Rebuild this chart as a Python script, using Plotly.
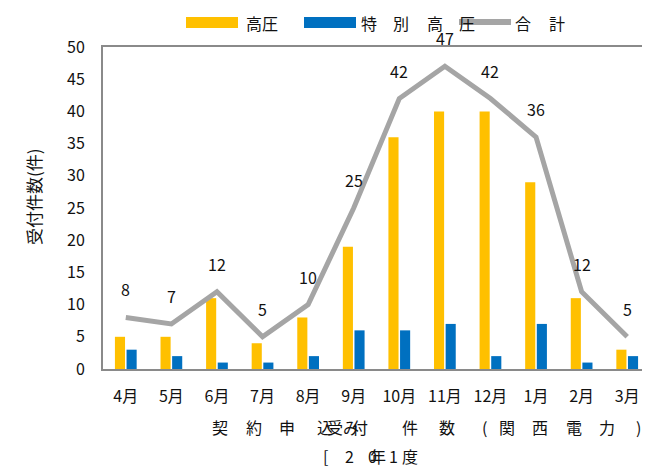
import plotly.graph_objects as go

months = ["4月", "5月", "6月", "7月", "8月", "9月", "10月", "11月", "12月", "1月", "2月", "3月"]
high_voltage = [5, 5, 11, 4, 8, 19, 36, 40, 40, 29, 11, 3]
extra_high_voltage = [3, 2, 1, 1, 2, 6, 6, 7, 2, 7, 1, 2]
totals = [8, 7, 12, 5, 10, 25, 42, 47, 42, 36, 12, 5]
y_ticks = [0, 5, 10, 15, 20, 25, 30, 35, 40, 45, 50]

FONT = "Noto Sans CJK JP"
TXT = "#111111"
AX = "#8a8a8a"

# the page body has an 8px margin, so the figure starts at (8, 8) in the window
OFF = 8
W, H = 650 - OFF, 473 - OFF
# plot-area geometry in window pixels (used only to place decorative text)
L, R, T, B = 103, 650, 47, 369


def px(x):
    return (x - L) / (R - L)


def py(y):
    return (B - y) / (B - T)


fig = go.Figure()
fig.add_trace(go.Bar(x=months, y=high_voltage, name="高圧", marker_color="#FFC000",
                     marker_line_width=0))
fig.add_trace(go.Bar(x=months, y=extra_high_voltage, name="特別高圧", marker_color="#0070C0",
                     marker_line_width=0))
fig.add_trace(go.Scatter(x=months, y=totals, name="合計", mode="lines",
                         line=dict(color="#A5A5A5", width=5)))

annotations = []
# data labels above total line
for m, t in zip(months, totals):
    annotations.append(dict(x=m, y=t, xref="x", yref="y", text=str(t), showarrow=False,
                            yshift=28, font=dict(family=FONT, size=16, color=TXT)))


def char(text, cx, cy, size=16):
    annotations.append(dict(x=px(cx), y=py(cy), xref="paper", yref="paper", text=text,
                            showarrow=False, xanchor="center", yanchor="middle",
                            font=dict(family=FONT, size=size, color=TXT)))


# legend text
char("高圧", 262, 23)
for c, cx in [("特", 369), ("別", 401), ("高", 435), ("圧", 467), ("合", 523), ("計", 557)]:
    char(c, cx, 23)

# x-axis title (line 1), rendered glyph by glyph like the original
for c, cx in [("契", 220), ("約", 254), ("申", 287), ("込", 325), ("受", 335), ("み", 351),
              ("付", 360), ("件", 410), ("数", 447), ("(", 484), ("関", 507), ("西", 540),
              ("電", 574), ("力", 607), (")", 638)]:
    char(c, cx, 427)
# line 2
for c, cx in [("[", 325), ("2", 349), ("0", 372), ("年", 378), ("1", 393), ("度", 410)]:
    char(c, cx, 456)

# y-axis title
annotations.append(dict(x=px(33), y=py(197), xref="paper", yref="paper", text="受付件数(件)",
                        showarrow=False, textangle=-90, xanchor="center", yanchor="middle",
                        font=dict(family=FONT, size=17, color=TXT)))

shapes = [
    dict(type="rect", xref="paper", yref="paper", x0=px(186), x1=px(238), y0=py(28), y1=py(17),
         fillcolor="#FFC000", line_width=0),
    dict(type="rect", xref="paper", yref="paper", x0=px(304), x1=px(356), y0=py(28), y1=py(17),
         fillcolor="#0070C0", line_width=0),
    dict(type="line", xref="paper", yref="paper", x0=px(459), x1=px(511), y0=py(22), y1=py(22),
         line=dict(color="#A5A5A5", width=6)),
]

fig.update_layout(
    width=W, height=H,
    margin=dict(l=L - OFF, r=650 - R, t=T - OFF, b=H - (B - OFF), pad=0),
    paper_bgcolor="white", plot_bgcolor="white",
    barmode="group", bargap=0.49, bargroupgap=0.13,
    showlegend=False,
    annotations=annotations,
    shapes=shapes,
    font=dict(family=FONT, size=16, color=TXT),
)
fig.update_xaxes(type="category", range=[-0.5, 11.5], showline=True, mirror=True,
                 linecolor=AX, linewidth=2, showgrid=False, ticks="",
                 ticklabelstandoff=12, tickfont=dict(family=FONT, size=16, color=TXT))
fig.update_yaxes(range=[0, 50], tickvals=y_ticks, showline=True, linecolor=AX, linewidth=2,
                 showgrid=False, zeroline=False, ticks="", ticklabelstandoff=13,
                 tickfont=dict(family=FONT, size=16, color=TXT))

fig.write_html("out.html")
